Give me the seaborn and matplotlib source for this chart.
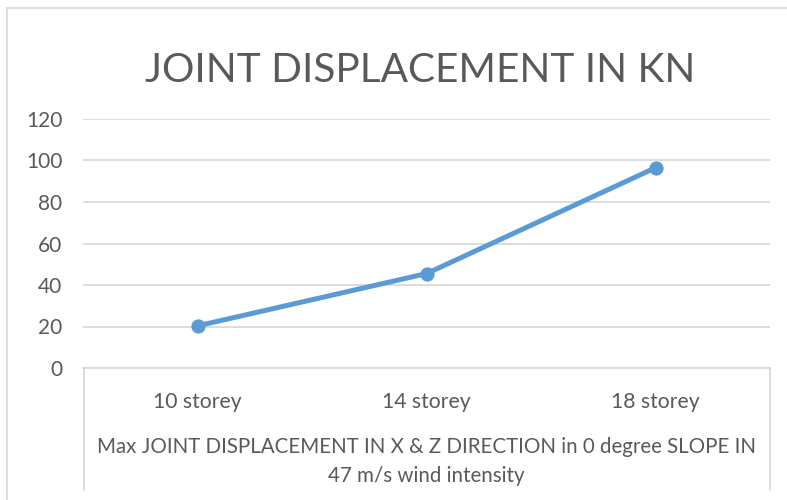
import seaborn as sns
import matplotlib.pyplot as plt
from matplotlib.lines import Line2D

# data
storeys = ["10 storey", "14 storey", "18 storey"]
displacement = [20.3, 45.5, 96.5]
y_ticks = [0, 20, 40, 60, 80, 100, 120]

title = "JOINT DISPLACEMENT IN KN"
x_title = "Max JOINT DISPLACEMENT IN X & Z DIRECTION in 0 degree SLOPE IN\n47 m/s wind intensity"

sns.set_style("white")
plt.rcParams["font.family"] = ["Lato", "DejaVu Sans"]

text_col = "#595959"
grid_col = "#D9D9D9"
line_col = "#5B9BD5"

W, H = 787, 500
fig = plt.figure(figsize=(W / 100, H / 100), dpi=100)
ax = fig.add_axes([83 / W, (H - 368) / H, (770 - 83) / W, (368 - 119) / H])

sns.lineplot(x=storeys, y=displacement, marker="o", color=line_col,
             linewidth=3.6, markersize=9.5, markeredgecolor=line_col, ax=ax)

ax.set_xlim(-0.5, 2.5)
ax.set_ylim(0, 120)
ax.set_yticks(y_ticks)
ax.yaxis.grid(True, color=grid_col, linewidth=1.3)
ax.set_axisbelow(True)
for s in ["top", "right", "left"]:
    ax.spines[s].set_visible(False)
ax.spines["bottom"].set_color(grid_col)
ax.spines["bottom"].set_linewidth(1.3)

ax.tick_params(axis="y", length=0, pad=15, labelsize=15, labelcolor=text_col)
ax.tick_params(axis="x", length=0, pad=17, labelsize=15.2, labelcolor=text_col)
ax.set_xlabel(x_title, fontsize=14.8, color=text_col, labelpad=18.5, linespacing=1.55)
ax.set_ylabel("")

fig.text(420.5 / W, 1 - 71 / H, title, ha="center", va="center",
         fontsize=29.2, color=text_col)

# category label box below the axis and the chart border
def fig_line(xs, ys):
    fig.add_artist(Line2D([x / W for x in xs], [1 - y / H for y in ys],
                          color=grid_col, linewidth=1.3))

fig_line([83.5, 83.5], [368, 490])
fig_line([769.5, 769.5], [368, 490])
fig_line([7, 7], [7.5, 500])
fig_line([7, 787], [7.5, 7.5])

fig.savefig("out.png", dpi=100)
